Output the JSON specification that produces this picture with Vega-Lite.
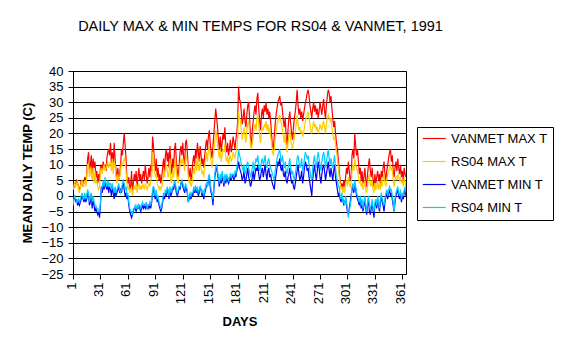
{
"$schema": "https://vega.github.io/schema/vega-lite/v6.json",
"width": 333, "height": 203,
"autosize": {"type": "none"},
"padding": {"left": 73, "top": 71, "right": 159, "bottom": 77},
"background": "white",
"title": {"text": "DAILY MAX & MIN TEMPS FOR RS04 & VANMET, 1991", "font": "Liberation Sans", "fontSize": 14.5, "fontWeight": "normal", "color": "black", "anchor": "middle", "dx": 21, "offset": 31},
"data": {"values": [
{"d":1,"vx":3,"rx":2,"vn":-2,"rn":-3},{"d":2,"vx":4,"rx":3,"vn":-1,"rn":-1},{"d":3,"vx":3,"rx":4,"vn":0,"rn":0},{"d":4,"vx":4,"rx":3,"vn":-2,"rn":-1},{"d":5,"vx":5,"rx":4,"vn":-1,"rn":-2},
{"d":6,"vx":4,"rx":5,"vn":-3,"rn":-2},{"d":7,"vx":3,"rx":2,"vn":-2,"rn":-1},{"d":8,"vx":2,"rx":1,"vn":-3,"rn":-2},{"d":9,"vx":3,"rx":3,"vn":-2,"rn":-1},{"d":10,"vx":5,"rx":4,"vn":-1,"rn":0},
{"d":11,"vx":4,"rx":5,"vn":0,"rn":1},{"d":12,"vx":3,"rx":3,"vn":-1,"rn":-1},{"d":13,"vx":5,"rx":4,"vn":-2,"rn":-1},{"d":14,"vx":6,"rx":5,"vn":0,"rn":1},{"d":15,"vx":4,"rx":3,"vn":-2,"rn":-1},
{"d":16,"vx":7,"rx":6,"vn":-1,"rn":0},{"d":17,"vx":12,"rx":10,"vn":1,"rn":2},{"d":18,"vx":14,"rx":10,"vn":0,"rn":1},{"d":19,"vx":8,"rx":6,"vn":-3,"rn":-2},{"d":20,"vx":10,"rx":9,"vn":-2,"rn":0},
{"d":21,"vx":13,"rx":7,"vn":0,"rn":1},{"d":22,"vx":7,"rx":5,"vn":-4,"rn":-2},{"d":23,"vx":12,"rx":9,"vn":-1,"rn":0},{"d":24,"vx":9,"rx":4,"vn":-3,"rn":-2},{"d":25,"vx":11,"rx":8,"vn":-5,"rn":-3},
{"d":26,"vx":6,"rx":4,"vn":-4,"rn":-3},{"d":27,"vx":8,"rx":5,"vn":-5,"rn":-4},{"d":28,"vx":4,"rx":3,"vn":-6,"rn":-4},{"d":29,"vx":7,"rx":2,"vn":-5,"rn":-5},{"d":30,"vx":5,"rx":3,"vn":-7,"rn":-5},
{"d":31,"vx":9,"rx":8,"vn":-3,"rn":-2},{"d":32,"vx":10,"rx":9,"vn":3,"rn":2},{"d":33,"vx":8,"rx":7,"vn":1,"rn":3},{"d":34,"vx":11,"rx":9,"vn":4,"rn":5},{"d":35,"vx":9,"rx":10,"vn":2,"rn":3},
{"d":36,"vx":10,"rx":8,"vn":5,"rn":6},{"d":37,"vx":8,"rx":9,"vn":3,"rn":4},{"d":38,"vx":12,"rx":10,"vn":2,"rn":3},{"d":39,"vx":14,"rx":11,"vn":4,"rn":5},{"d":40,"vx":15,"rx":9,"vn":1,"rn":3},
{"d":41,"vx":13,"rx":10,"vn":3,"rn":4},{"d":42,"vx":17,"rx":11,"vn":2,"rn":4},{"d":43,"vx":10,"rx":8,"vn":0,"rn":2},{"d":44,"vx":14,"rx":12,"vn":3,"rn":4},{"d":45,"vx":9,"rx":7,"vn":1,"rn":2},
{"d":46,"vx":17,"rx":11,"vn":-1,"rn":1},{"d":47,"vx":12,"rx":10,"vn":2,"rn":3},{"d":48,"vx":8,"rx":6,"vn":0,"rn":1},{"d":49,"vx":6,"rx":4,"vn":1,"rn":2},{"d":50,"vx":9,"rx":7,"vn":2,"rn":3},
{"d":51,"vx":5,"rx":5,"vn":3,"rn":4},{"d":52,"vx":7,"rx":6,"vn":1,"rn":2},{"d":53,"vx":10,"rx":8,"vn":2,"rn":1},{"d":54,"vx":15,"rx":11,"vn":1,"rn":2},{"d":55,"vx":13,"rx":10,"vn":3,"rn":4},
{"d":56,"vx":17,"rx":11,"vn":4,"rn":5},{"d":57,"vx":20,"rx":12,"vn":2,"rn":4},{"d":58,"vx":16,"rx":11,"vn":0,"rn":2},{"d":59,"vx":12,"rx":8,"vn":1,"rn":3},{"d":60,"vx":5,"rx":4,"vn":-1,"rn":0},
{"d":61,"vx":4,"rx":2,"vn":0,"rn":1},{"d":62,"vx":6,"rx":3,"vn":-3,"rn":-2},{"d":63,"vx":2,"rx":1,"vn":-5,"rn":-4},{"d":64,"vx":3,"rx":2,"vn":-6,"rn":-5},{"d":65,"vx":8,"rx":3,"vn":-7,"rn":-5},
{"d":66,"vx":1,"rx":0,"vn":-6,"rn":-6},{"d":67,"vx":4,"rx":2,"vn":-5,"rn":-4},{"d":68,"vx":7,"rx":3,"vn":-4,"rn":-4},{"d":69,"vx":5,"rx":2,"vn":-4,"rn":-3},{"d":70,"vx":8,"rx":4,"vn":-5,"rn":-4},
{"d":71,"vx":3,"rx":1,"vn":-4,"rn":-3},{"d":72,"vx":6,"rx":3,"vn":-4,"rn":-4},{"d":73,"vx":9,"rx":4,"vn":-3,"rn":-3},{"d":74,"vx":5,"rx":2,"vn":-4,"rn":-3},{"d":75,"vx":7,"rx":3,"vn":-5,"rn":-4},
{"d":76,"vx":4,"rx":2,"vn":-4,"rn":-3},{"d":77,"vx":6,"rx":4,"vn":-3,"rn":-2},{"d":78,"vx":8,"rx":3,"vn":-4,"rn":-3},{"d":79,"vx":5,"rx":2,"vn":-3,"rn":-3},{"d":80,"vx":10,"rx":4,"vn":-4,"rn":-3},
{"d":81,"vx":7,"rx":3,"vn":-3,"rn":-2},{"d":82,"vx":4,"rx":2,"vn":-4,"rn":-4},{"d":83,"vx":6,"rx":3,"vn":-3,"rn":-3},{"d":84,"vx":9,"rx":4,"vn":-4,"rn":-3},{"d":85,"vx":6,"rx":3,"vn":-3,"rn":-2},
{"d":86,"vx":10,"rx":5,"vn":-4,"rn":-3},{"d":87,"vx":8,"rx":6,"vn":-2,"rn":-1},{"d":88,"vx":19,"rx":14,"vn":1,"rn":2},{"d":89,"vx":16,"rx":12,"vn":3,"rn":3},{"d":90,"vx":11,"rx":8,"vn":0,"rn":1},
{"d":91,"vx":8,"rx":6,"vn":-1,"rn":0},{"d":92,"vx":12,"rx":7,"vn":1,"rn":2},{"d":93,"vx":6,"rx":4,"vn":-2,"rn":-1},{"d":94,"vx":9,"rx":3,"vn":-1,"rn":0},{"d":95,"vx":5,"rx":2,"vn":-3,"rn":-2},
{"d":96,"vx":7,"rx":3,"vn":-4,"rn":-3},{"d":97,"vx":4,"rx":2,"vn":-5,"rn":-4},{"d":98,"vx":6,"rx":3,"vn":-4,"rn":-3},{"d":99,"vx":9,"rx":4,"vn":-2,"rn":-1},{"d":100,"vx":12,"rx":8,"vn":0,"rn":1},
{"d":101,"vx":8,"rx":6,"vn":-1,"rn":0},{"d":102,"vx":13,"rx":9,"vn":1,"rn":2},{"d":103,"vx":15,"rx":10,"vn":0,"rn":1},{"d":104,"vx":11,"rx":8,"vn":2,"rn":3},{"d":105,"vx":14,"rx":6,"vn":1,"rn":2},
{"d":106,"vx":9,"rx":7,"vn":-1,"rn":0},{"d":107,"vx":16,"rx":12,"vn":2,"rn":3},{"d":108,"vx":10,"rx":5,"vn":0,"rn":1},{"d":109,"vx":7,"rx":4,"vn":1,"rn":2},{"d":110,"vx":12,"rx":8,"vn":3,"rn":3},
{"d":111,"vx":9,"rx":6,"vn":2,"rn":3},{"d":112,"vx":15,"rx":10,"vn":4,"rn":5},{"d":113,"vx":17,"rx":12,"vn":3,"rn":4},{"d":114,"vx":11,"rx":7,"vn":1,"rn":2},{"d":115,"vx":8,"rx":5,"vn":0,"rn":1},
{"d":116,"vx":6,"rx":4,"vn":1,"rn":2},{"d":117,"vx":10,"rx":7,"vn":3,"rn":3},{"d":118,"vx":14,"rx":10,"vn":2,"rn":3},{"d":119,"vx":16,"rx":12,"vn":4,"rn":4},{"d":120,"vx":13,"rx":10,"vn":5,"rn":5},
{"d":121,"vx":17,"rx":12,"vn":3,"rn":4},{"d":122,"vx":12,"rx":10,"vn":2,"rn":3},{"d":123,"vx":10,"rx":8,"vn":1,"rn":2},{"d":124,"vx":17,"rx":12,"vn":3,"rn":4},{"d":125,"vx":18,"rx":13,"vn":2,"rn":3},
{"d":126,"vx":14,"rx":10,"vn":1,"rn":2},{"d":127,"vx":8,"rx":6,"vn":-2,"rn":-2},{"d":128,"vx":6,"rx":4,"vn":-1,"rn":0},{"d":129,"vx":9,"rx":5,"vn":0,"rn":1},{"d":130,"vx":5,"rx":3,"vn":-1,"rn":0},
{"d":131,"vx":7,"rx":4,"vn":1,"rn":1},{"d":132,"vx":11,"rx":7,"vn":0,"rn":1},{"d":133,"vx":13,"rx":9,"vn":2,"rn":3},{"d":134,"vx":10,"rx":7,"vn":1,"rn":2},{"d":135,"vx":15,"rx":11,"vn":3,"rn":3},
{"d":136,"vx":12,"rx":8,"vn":1,"rn":2},{"d":137,"vx":17,"rx":13,"vn":2,"rn":3},{"d":138,"vx":14,"rx":9,"vn":0,"rn":1},{"d":139,"vx":11,"rx":8,"vn":1,"rn":2},{"d":140,"vx":16,"rx":12,"vn":3,"rn":3},
{"d":141,"vx":13,"rx":9,"vn":2,"rn":2},{"d":142,"vx":10,"rx":7,"vn":0,"rn":1},{"d":143,"vx":12,"rx":8,"vn":1,"rn":2},{"d":144,"vx":9,"rx":6,"vn":-1,"rn":0},{"d":145,"vx":13,"rx":10,"vn":1,"rn":2},
{"d":146,"vx":16,"rx":12,"vn":2,"rn":3},{"d":147,"vx":18,"rx":14,"vn":4,"rn":4},{"d":148,"vx":15,"rx":11,"vn":3,"rn":3},{"d":149,"vx":19,"rx":15,"vn":5,"rn":6},{"d":150,"vx":21,"rx":16,"vn":6,"rn":7},
{"d":151,"vx":17,"rx":13,"vn":3,"rn":4},{"d":152,"vx":14,"rx":11,"vn":1,"rn":2},{"d":153,"vx":12,"rx":9,"vn":0,"rn":1},{"d":154,"vx":16,"rx":12,"vn":-3,"rn":-1},{"d":155,"vx":20,"rx":15,"vn":2,"rn":3},
{"d":156,"vx":24,"rx":17,"vn":6,"rn":7},{"d":157,"vx":28,"rx":21,"vn":8,"rn":9},{"d":158,"vx":25,"rx":19,"vn":10,"rn":10},{"d":159,"vx":22,"rx":16,"vn":7,"rn":8},{"d":160,"vx":18,"rx":14,"vn":5,"rn":6},
{"d":161,"vx":15,"rx":12,"vn":3,"rn":4},{"d":162,"vx":19,"rx":15,"vn":6,"rn":7},{"d":163,"vx":14,"rx":11,"vn":4,"rn":5},{"d":164,"vx":17,"rx":13,"vn":7,"rn":8},{"d":165,"vx":20,"rx":15,"vn":5,"rn":6},
{"d":166,"vx":18,"rx":14,"vn":3,"rn":4},{"d":167,"vx":22,"rx":17,"vn":6,"rn":7},{"d":168,"vx":16,"rx":12,"vn":4,"rn":5},{"d":169,"vx":14,"rx":11,"vn":6,"rn":7},{"d":170,"vx":17,"rx":13,"vn":5,"rn":6},
{"d":171,"vx":13,"rx":10,"vn":4,"rn":5},{"d":172,"vx":15,"rx":12,"vn":5,"rn":6},{"d":173,"vx":18,"rx":13,"vn":6,"rn":7},{"d":174,"vx":14,"rx":11,"vn":5,"rn":6},{"d":175,"vx":16,"rx":12,"vn":7,"rn":7},
{"d":176,"vx":19,"rx":14,"vn":6,"rn":7},{"d":177,"vx":17,"rx":13,"vn":5,"rn":6},{"d":178,"vx":15,"rx":12,"vn":7,"rn":8},{"d":179,"vx":18,"rx":14,"vn":6,"rn":7},{"d":180,"vx":20,"rx":15,"vn":8,"rn":9},
{"d":181,"vx":24,"rx":18,"vn":9,"rn":11},{"d":182,"vx":35,"rx":27,"vn":11,"rn":15},{"d":183,"vx":31,"rx":25,"vn":9,"rn":13},{"d":184,"vx":30,"rx":24,"vn":8,"rn":12},{"d":185,"vx":27,"rx":21,"vn":7,"rn":10},
{"d":186,"vx":23,"rx":18,"vn":5,"rn":9},{"d":187,"vx":25,"rx":20,"vn":6,"rn":8},{"d":188,"vx":28,"rx":22,"vn":8,"rn":10},{"d":189,"vx":24,"rx":19,"vn":4,"rn":7},{"d":190,"vx":22,"rx":17,"vn":5,"rn":8},
{"d":191,"vx":26,"rx":21,"vn":7,"rn":10},{"d":192,"vx":29,"rx":23,"vn":9,"rn":11},{"d":193,"vx":30,"rx":24,"vn":6,"rn":9},{"d":194,"vx":25,"rx":20,"vn":5,"rn":8},{"d":195,"vx":19,"rx":16,"vn":3,"rn":6},
{"d":196,"vx":16,"rx":15,"vn":4,"rn":7},{"d":197,"vx":21,"rx":17,"vn":6,"rn":9},{"d":198,"vx":24,"rx":19,"vn":8,"rn":11},{"d":199,"vx":27,"rx":22,"vn":5,"rn":8},{"d":200,"vx":29,"rx":23,"vn":7,"rn":10},
{"d":201,"vx":26,"rx":21,"vn":9,"rn":12},{"d":202,"vx":31,"rx":25,"vn":8,"rn":11},{"d":203,"vx":33,"rx":26,"vn":10,"rn":13},{"d":204,"vx":28,"rx":23,"vn":7,"rn":10},{"d":205,"vx":24,"rx":19,"vn":5,"rn":8},
{"d":206,"vx":21,"rx":17,"vn":6,"rn":9},{"d":207,"vx":26,"rx":20,"vn":8,"rn":11},{"d":208,"vx":28,"rx":22,"vn":9,"rn":12},{"d":209,"vx":25,"rx":21,"vn":6,"rn":10},{"d":210,"vx":29,"rx":23,"vn":8,"rn":11},
{"d":211,"vx":27,"rx":22,"vn":10,"rn":13},{"d":212,"vx":30,"rx":24,"vn":7,"rn":10},{"d":213,"vx":26,"rx":21,"vn":5,"rn":9},{"d":214,"vx":28,"rx":23,"vn":8,"rn":11},{"d":215,"vx":25,"rx":20,"vn":9,"rn":12},
{"d":216,"vx":27,"rx":22,"vn":6,"rn":10},{"d":217,"vx":24,"rx":19,"vn":7,"rn":9},{"d":218,"vx":20,"rx":17,"vn":5,"rn":8},{"d":219,"vx":16,"rx":14,"vn":4,"rn":7},{"d":220,"vx":15,"rx":13,"vn":3,"rn":6},
{"d":221,"vx":19,"rx":15,"vn":2,"rn":5},{"d":222,"vx":23,"rx":18,"vn":5,"rn":8},{"d":223,"vx":26,"rx":21,"vn":7,"rn":10},{"d":224,"vx":28,"rx":23,"vn":9,"rn":12},{"d":225,"vx":30,"rx":24,"vn":11,"rn":13},
{"d":226,"vx":31,"rx":25,"vn":10,"rn":14},{"d":227,"vx":32,"rx":26,"vn":12,"rn":15},{"d":228,"vx":29,"rx":24,"vn":9,"rn":12},{"d":229,"vx":30,"rx":23,"vn":8,"rn":11},{"d":230,"vx":27,"rx":21,"vn":10,"rn":13},
{"d":231,"vx":24,"rx":19,"vn":7,"rn":10},{"d":232,"vx":22,"rx":17,"vn":6,"rn":9},{"d":233,"vx":25,"rx":20,"vn":8,"rn":11},{"d":234,"vx":19,"rx":16,"vn":5,"rn":8},{"d":235,"vx":16,"rx":14,"vn":4,"rn":7},
{"d":236,"vx":21,"rx":17,"vn":6,"rn":9},{"d":237,"vx":25,"rx":19,"vn":7,"rn":10},{"d":238,"vx":27,"rx":21,"vn":9,"rn":12},{"d":239,"vx":23,"rx":18,"vn":6,"rn":9},{"d":240,"vx":20,"rx":16,"vn":4,"rn":7},
{"d":241,"vx":18,"rx":15,"vn":5,"rn":8},{"d":242,"vx":22,"rx":17,"vn":3,"rn":6},{"d":243,"vx":25,"rx":19,"vn":2,"rn":5},{"d":244,"vx":27,"rx":21,"vn":4,"rn":7},{"d":245,"vx":30,"rx":23,"vn":6,"rn":9},
{"d":246,"vx":34,"rx":26,"vn":8,"rn":12},{"d":247,"vx":29,"rx":23,"vn":10,"rn":13},{"d":248,"vx":26,"rx":21,"vn":7,"rn":11},{"d":249,"vx":28,"rx":22,"vn":5,"rn":9},{"d":250,"vx":25,"rx":20,"vn":6,"rn":10},
{"d":251,"vx":27,"rx":21,"vn":8,"rn":12},{"d":252,"vx":24,"rx":19,"vn":4,"rn":8},{"d":253,"vx":26,"rx":20,"vn":6,"rn":9},{"d":254,"vx":28,"rx":22,"vn":9,"rn":12},{"d":255,"vx":30,"rx":24,"vn":11,"rn":14},
{"d":256,"vx":31,"rx":25,"vn":10,"rn":13},{"d":257,"vx":33,"rx":26,"vn":8,"rn":12},{"d":258,"vx":34,"rx":27,"vn":9,"rn":13},{"d":259,"vx":32,"rx":25,"vn":6,"rn":10},{"d":260,"vx":29,"rx":23,"vn":4,"rn":8},
{"d":261,"vx":27,"rx":21,"vn":2,"rn":6},{"d":262,"vx":25,"rx":20,"vn":0,"rn":5},{"d":263,"vx":28,"rx":22,"vn":5,"rn":9},{"d":264,"vx":30,"rx":24,"vn":8,"rn":11},{"d":265,"vx":27,"rx":22,"vn":10,"rn":13},
{"d":266,"vx":29,"rx":23,"vn":7,"rn":10},{"d":267,"vx":26,"rx":21,"vn":5,"rn":9},{"d":268,"vx":28,"rx":22,"vn":8,"rn":12},{"d":269,"vx":25,"rx":20,"vn":11,"rn":14},{"d":270,"vx":27,"rx":21,"vn":9,"rn":12},
{"d":271,"vx":30,"rx":23,"vn":6,"rn":10},{"d":272,"vx":28,"rx":22,"vn":4,"rn":8},{"d":273,"vx":26,"rx":21,"vn":7,"rn":11},{"d":274,"vx":29,"rx":23,"vn":9,"rn":13},{"d":275,"vx":31,"rx":24,"vn":10,"rn":14},
{"d":276,"vx":27,"rx":22,"vn":8,"rn":12},{"d":277,"vx":25,"rx":20,"vn":5,"rn":9},{"d":278,"vx":29,"rx":23,"vn":7,"rn":11},{"d":279,"vx":32,"rx":25,"vn":9,"rn":13},{"d":280,"vx":34,"rx":26,"vn":11,"rn":15},
{"d":281,"vx":33,"rx":25,"vn":8,"rn":12},{"d":282,"vx":30,"rx":24,"vn":6,"rn":10},{"d":283,"vx":32,"rx":25,"vn":9,"rn":12},{"d":284,"vx":28,"rx":22,"vn":7,"rn":10},{"d":285,"vx":25,"rx":20,"vn":5,"rn":9},
{"d":286,"vx":22,"rx":18,"vn":8,"rn":11},{"d":287,"vx":24,"rx":19,"vn":10,"rn":13},{"d":288,"vx":20,"rx":16,"vn":6,"rn":9},{"d":289,"vx":17,"rx":14,"vn":4,"rn":6},{"d":290,"vx":15,"rx":12,"vn":2,"rn":5},
{"d":291,"vx":12,"rx":9,"vn":0,"rn":3},{"d":292,"vx":8,"rx":6,"vn":1,"rn":3},{"d":293,"vx":5,"rx":4,"vn":-1,"rn":0},{"d":294,"vx":3,"rx":2,"vn":-2,"rn":-1},{"d":295,"vx":4,"rx":3,"vn":0,"rn":1},
{"d":296,"vx":2,"rx":1,"vn":-1,"rn":-2},{"d":297,"vx":5,"rx":3,"vn":-3,"rn":-2},{"d":298,"vx":3,"rx":1,"vn":-2,"rn":-3},{"d":299,"vx":6,"rx":4,"vn":-1,"rn":0},{"d":300,"vx":9,"rx":5,"vn":-3,"rn":-2},
{"d":301,"vx":7,"rx":3,"vn":-5,"rn":-4},{"d":302,"vx":11,"rx":6,"vn":-6,"rn":-7},{"d":303,"vx":8,"rx":4,"vn":-4,"rn":-5},{"d":304,"vx":5,"rx":3,"vn":-2,"rn":-3},{"d":305,"vx":6,"rx":4,"vn":0,"rn":-1},
{"d":306,"vx":13,"rx":8,"vn":2,"rn":3},{"d":307,"vx":15,"rx":10,"vn":3,"rn":4},{"d":308,"vx":12,"rx":8,"vn":1,"rn":2},{"d":309,"vx":20,"rx":12,"vn":4,"rn":5},{"d":310,"vx":16,"rx":10,"vn":2,"rn":3},
{"d":311,"vx":13,"rx":9,"vn":0,"rn":1},{"d":312,"vx":15,"rx":8,"vn":-1,"rn":0},{"d":313,"vx":11,"rx":6,"vn":-2,"rn":-1},{"d":314,"vx":7,"rx":4,"vn":-3,"rn":-2},{"d":315,"vx":9,"rx":5,"vn":-1,"rn":0},
{"d":316,"vx":5,"rx":3,"vn":-4,"rn":-3},{"d":317,"vx":8,"rx":4,"vn":-2,"rn":-1},{"d":318,"vx":4,"rx":2,"vn":-5,"rn":-4},{"d":319,"vx":6,"rx":3,"vn":-3,"rn":-2},{"d":320,"vx":9,"rx":5,"vn":-1,"rn":0},
{"d":321,"vx":5,"rx":2,"vn":-4,"rn":-3},{"d":322,"vx":3,"rx":1,"vn":-6,"rn":-5},{"d":323,"vx":7,"rx":3,"vn":-3,"rn":-2},{"d":324,"vx":10,"rx":6,"vn":-1,"rn":0},{"d":325,"vx":12,"rx":7,"vn":-5,"rn":-3},
{"d":326,"vx":8,"rx":4,"vn":-6,"rn":-4},{"d":327,"vx":6,"rx":3,"vn":-4,"rn":-3},{"d":328,"vx":9,"rx":5,"vn":-2,"rn":-1},{"d":329,"vx":5,"rx":2,"vn":-5,"rn":-4},{"d":330,"vx":3,"rx":1,"vn":-7,"rn":-5},
{"d":331,"vx":7,"rx":4,"vn":-3,"rn":-2},{"d":332,"vx":4,"rx":2,"vn":-2,"rn":-1},{"d":333,"vx":6,"rx":3,"vn":-4,"rn":-3},{"d":334,"vx":8,"rx":5,"vn":-1,"rn":0},{"d":335,"vx":5,"rx":2,"vn":-3,"rn":-2},
{"d":336,"vx":7,"rx":4,"vn":-5,"rn":-4},{"d":337,"vx":4,"rx":2,"vn":-2,"rn":-1},{"d":338,"vx":8,"rx":5,"vn":0,"rn":1},{"d":339,"vx":6,"rx":3,"vn":-2,"rn":-1},{"d":340,"vx":9,"rx":6,"vn":-3,"rn":-2},
{"d":341,"vx":11,"rx":7,"vn":-5,"rn":-3},{"d":342,"vx":7,"rx":4,"vn":-2,"rn":-1},{"d":343,"vx":5,"rx":3,"vn":0,"rn":1},{"d":344,"vx":8,"rx":5,"vn":1,"rn":2},{"d":345,"vx":10,"rx":7,"vn":-1,"rn":0},
{"d":346,"vx":12,"rx":8,"vn":1,"rn":2},{"d":347,"vx":14,"rx":9,"vn":2,"rn":3},{"d":348,"vx":15,"rx":10,"vn":0,"rn":2},{"d":349,"vx":11,"rx":8,"vn":1,"rn":2},{"d":350,"vx":13,"rx":9,"vn":-1,"rn":0},
{"d":351,"vx":8,"rx":5,"vn":-3,"rn":-2},{"d":352,"vx":6,"rx":3,"vn":-5,"rn":-5},{"d":353,"vx":9,"rx":5,"vn":-2,"rn":-1},{"d":354,"vx":11,"rx":6,"vn":0,"rn":1},{"d":355,"vx":8,"rx":5,"vn":1,"rn":2},
{"d":356,"vx":12,"rx":7,"vn":2,"rn":3},{"d":357,"vx":9,"rx":6,"vn":0,"rn":1},{"d":358,"vx":7,"rx":5,"vn":-1,"rn":0},{"d":359,"vx":10,"rx":6,"vn":1,"rn":2},{"d":360,"vx":6,"rx":4,"vn":-2,"rn":-1},
{"d":361,"vx":8,"rx":5,"vn":0,"rn":1},{"d":362,"vx":5,"rx":3,"vn":-1,"rn":0},{"d":363,"vx":9,"rx":6,"vn":1,"rn":2},{"d":364,"vx":7,"rx":4,"vn":2,"rn":3},{"d":365,"vx":6,"rx":3,"vn":0,"rn":1}
]},
"transform": [{"fold": ["vx", "rx", "vn", "rn"], "as": ["s", "t"]}],
"mark": {"type": "line", "strokeWidth": 1.2, "clip": true},
"encoding": {
  "x": {"field": "d", "type": "quantitative",
        "scale": {"domain": [1, 365], "nice": false, "zero": false},
        "axis": {"values": [1,31,61,91,121,151,181,211,241,271,301,331,361], "title": "DAYS", "titleFontWeight": "bold", "titleFontSize": 13, "titleColor": "black", "titlePadding": 12,
                 "labelAngle": -90, "labelAlign": "right", "labelBaseline": "middle", "labelFontSize": 13, "labelColor": "black", "labelPadding": 3, "labelOffset": -2, "labelFlush": false, "labelOverlap": false,
                 "tickSize": 5, "tickColor": "black", "domainColor": "black", "grid": false}},
  "y": {"field": "t", "type": "quantitative",
        "scale": {"domain": [-25, 40], "nice": false, "zero": false},
        "axis": {"values": [-25,-20,-15,-10,-5,0,5,10,15,20,25,30,35,40], "title": "MEAN DAILY TEMP (C)", "titleFontWeight": "bold", "titleFontSize": 13, "titleColor": "black", "titlePadding": 6,
                 "labelFontSize": 13, "labelColor": "black", "labelPadding": 5, "labelFlush": false, "labelOverlap": false,
                 "tickSize": 5, "tickColor": "black", "domainColor": "black", "grid": true, "gridColor": "black", "gridWidth": 1, "gridOpacity": 1}},
  "color": {"field": "s", "type": "nominal",
            "scale": {"domain": ["vx", "rx", "vn", "rn"], "range": ["#FF0000", "#FFCC00", "#0000FF", "#00CCFF"]},
            "legend": {"orient": "none", "legendX": 344, "legendY": 56, "title": null, "strokeColor": "black", "fillColor": "white", "padding": 5,
                       "symbolType": "M-1,0H3", "symbolSize": 132, "symbolStrokeWidth": 1.2, "labelFontSize": 13, "labelColor": "black", "labelOffset": 16, "rowPadding": 9,
                       "labelExpr": "{'vx': 'VANMET MAX T', 'rx': 'RS04 MAX T', 'vn': 'VANMET MIN T', 'rn': 'RS04 MIN T'}[datum.label]"}}
},
"config": {"view": {"stroke": "black", "strokeWidth": 1}, "font": "Liberation Sans"}
}
